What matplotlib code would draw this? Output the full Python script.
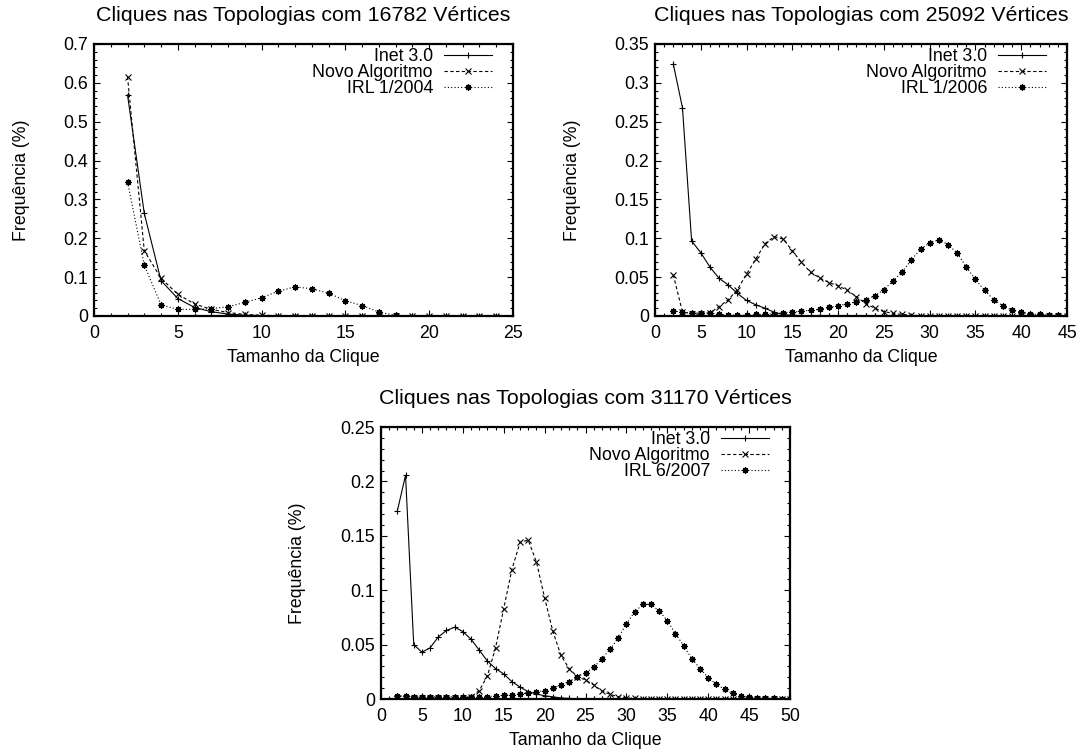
import matplotlib
matplotlib.use("Agg")
import matplotlib.pyplot as plt
from matplotlib.ticker import MultipleLocator, AutoMinorLocator, FuncFormatter

plt.rcParams["font.family"] = ["Liberation Sans", "DejaVu Sans"]
plt.rcParams["font.size"] = 12.8

# Topologies with 16782 vertices
x_16782_inet = list(range(2, 22))
y_16782_inet = [0.569, 0.264, 0.091, 0.045, 0.022, 0.011, 0.005, 0.002, 0.001, 0.0005,
                0, 0, 0, 0, 0, 0, 0, 0, 0, 0]
x_16782_novo = list(range(2, 25))
y_16782_novo = [0.616, 0.168, 0.097, 0.056, 0.031, 0.017, 0.009, 0.004, 0.002, 0.001,
                0.0005, 0, 0, 0, 0, 0, 0, 0, 0, 0, 0, 0, 0]
x_16782_irl = list(range(2, 19))
y_16782_irl = [0.345, 0.131, 0.029, 0.017, 0.017, 0.019, 0.024, 0.035, 0.047, 0.064,
               0.075, 0.070, 0.059, 0.039, 0.027, 0.010, 0.002]

# Topologies with 25092 vertices
x_25092_inet = list(range(2, 26))
y_25092_inet = [0.324, 0.268, 0.0965, 0.0815, 0.063, 0.0485, 0.040, 0.029, 0.020, 0.0145,
                0.010, 0.005, 0.0017, 0.001, 0.0005, 0, 0, 0, 0, 0, 0, 0, 0, 0]
x_25092_novo = list(range(2, 46))
y_25092_novo = [0.053, 0.005, 0.003, 0.002, 0.004, 0.012, 0.021, 0.034, 0.054, 0.073,
                0.093, 0.102, 0.099, 0.084, 0.069, 0.056, 0.049, 0.043, 0.039, 0.033,
                0.025, 0.016, 0.010, 0.0056, 0.0034, 0.002, 0.001, 0.0005, 0, 0,
                0, 0, 0, 0, 0, 0, 0, 0, 0, 0, 0, 0, 0, 0]
x_25092_irl = list(range(2, 46))
y_25092_irl = [0.0064, 0.005, 0.004, 0.004, 0.004, 0.002, 0.001, 0.001, 0.001, 0.002,
               0.002, 0.003, 0.0043, 0.005, 0.006, 0.0077, 0.0086, 0.011, 0.013, 0.016,
               0.018, 0.021, 0.026, 0.034, 0.045, 0.057, 0.072, 0.086, 0.094, 0.098,
               0.092, 0.081, 0.063, 0.047, 0.033, 0.021, 0.013, 0.0077, 0.0047, 0.0026,
               0.002, 0.001, 0.001, 0.0005]

# Topologies with 31170 vertices
x_31170_inet = list(range(2, 31))
y_31170_inet = [0.173, 0.2056, 0.050, 0.043, 0.047, 0.057, 0.063, 0.066, 0.062, 0.055,
                0.045, 0.035, 0.028, 0.023, 0.016, 0.011, 0.0067, 0.0046, 0.003, 0.002,
                0.001, 0.0005, 0, 0, 0, 0, 0, 0, 0]
x_31170_novo = list(range(2, 51))
y_31170_novo = [0.0005, 0.0005, 0.0005, 0.0005, 0.0005, 0.0005, 0.0005, 0.0005, 0.0005,
                0.002, 0.0077, 0.021, 0.047, 0.083, 0.119, 0.144, 0.146, 0.126, 0.093,
                0.0625, 0.040, 0.028, 0.0205, 0.0175, 0.013, 0.0074, 0.0043, 0.002, 0.001,
                0.0005, 0, 0, 0, 0, 0, 0, 0, 0, 0, 0, 0, 0, 0, 0, 0, 0, 0, 0, 0]
x_31170_irl = list(range(2, 51))
y_31170_irl = [0.0028, 0.0028, 0.002, 0.002, 0.002, 0.002, 0.002, 0.002, 0.002,
               0.002, 0.002, 0.002, 0.003, 0.0034, 0.004, 0.0046, 0.0055, 0.0065, 0.0078,
               0.0098, 0.0129, 0.016, 0.0205, 0.024, 0.029, 0.037, 0.0457, 0.056, 0.069,
               0.080, 0.087, 0.087, 0.081, 0.072, 0.060, 0.049, 0.037, 0.028, 0.0196,
               0.0135, 0.0089, 0.0052, 0.0028, 0.0018, 0.001, 0.0008, 0.0005, 0.0003, 0.0002]

W, H = 1082, 756


def gformat(v, pos):
    return "%g" % round(v, 4)


def draw_panel(ax, vertices, irl_label, inet, novo, irl, xmax, ymax, ystep, ylab_x):
    ax.plot(inet[0], inet[1], color="black", lw=0.8, marker="+", ms=5,
            mew=0.8, label="Inet 3.0")
    ax.plot(novo[0], novo[1], color="black", lw=0.8, ls=(0, (3, 2.2)), marker="x",
            ms=4, mew=0.8, label="Novo Algoritmo")
    ax.plot(irl[0], irl[1], color="black", lw=0.8, ls=(0, (1, 2)), marker=(8, 2, 0),
            ms=4.5, mew=0.9, label=irl_label)

    ax.set_xlim(0, xmax)
    ax.set_ylim(0, ymax)
    ax.xaxis.set_major_locator(MultipleLocator(5))
    ax.xaxis.set_minor_locator(MultipleLocator(1))
    ax.yaxis.set_major_locator(MultipleLocator(ystep))
    ax.yaxis.set_minor_locator(AutoMinorLocator(5))
    ax.yaxis.set_major_formatter(FuncFormatter(gformat))
    ax.tick_params(which="both", direction="in", top=True, right=True, width=0.8)
    ax.tick_params(which="major", length=4)
    ax.tick_params(which="minor", length=2)
    ax.tick_params(axis="x", pad=6.6)
    ax.tick_params(axis="y", pad=4.3)
    for sp in ax.spines.values():
        sp.set_linewidth(1.6)

    ax.set_title("Cliques nas Topologias com %d Vértices" % vertices, pad=16.6)
    ax.set_xlabel("Tamanho da Clique", labelpad=4.7)
    ax.set_ylabel("Frequência (%)")
    ax.yaxis.label.set_va("center")
    ax.yaxis.set_label_coords(ylab_x, 0.5)

    bbox = ax.get_position()
    wpx = bbox.width * W
    hpx = bbox.height * H
    lg = ax.legend(loc="upper right", bbox_to_anchor=(1 - 21 / wpx, 1 - 4 / hpx),
                   frameon=False, markerfirst=False, handlelength=2.7,
                   handletextpad=0.62, labelspacing=-0.05, borderpad=0, borderaxespad=0)
    return lg


fig = plt.figure(figsize=(W / 100, H / 100), dpi=100)
ax1 = fig.add_axes([94 / W, 1 - 316 / H, 419 / W, 272 / H])
ax2 = fig.add_axes([655 / W, 1 - 316 / H, 412 / W, 272 / H])
ax3 = fig.add_axes([381 / W, 1 - 699 / H, 409 / W, 272 / H])

draw_panel(ax1, 16782, "IRL 1/2004",
           (x_16782_inet, y_16782_inet), (x_16782_novo, y_16782_novo),
           (x_16782_irl, y_16782_irl), 25, 0.7, 0.1, -0.174)
draw_panel(ax2, 25092, "IRL 1/2006",
           (x_25092_inet, y_25092_inet), (x_25092_novo, y_25092_novo),
           (x_25092_irl, y_25092_irl), 45, 0.35, 0.05, -0.201)
draw_panel(ax3, 31170, "IRL 6/2007",
           (x_31170_inet, y_31170_inet), (x_31170_novo, y_31170_novo),
           (x_31170_irl, y_31170_irl), 50, 0.25, 0.05, -0.203)

fig.savefig("out.png", dpi=100)
